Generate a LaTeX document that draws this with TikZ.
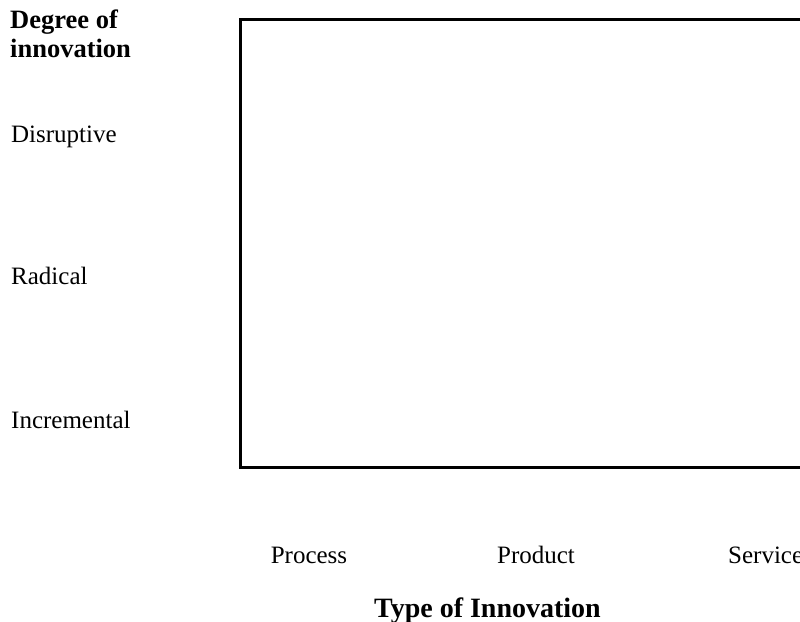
\documentclass[tikz,border=0pt]{standalone}
\usepackage{fontspec}
\setmainfont{Liberation Serif}
\begin{document}
\begin{tikzpicture}[x=1pt,y=-1pt,
  lbl/.style={inner sep=0pt,font=\fontsize{25}{28}\selectfont},
  ttl/.style={inner sep=0pt,font=\fontsize{26.5}{28}\selectfont\bfseries},
  ttlb/.style={inner sep=0pt,font=\fontsize{28}{30}\selectfont\bfseries},
  frame/.style={draw=black,line width=3pt}]
\useasboundingbox (0,0) rectangle (800,621);
\coordinate (tr) at (810,19);
\coordinate (tl) at (240,19);
\coordinate (bl) at (240,467);
\coordinate (br) at (810,467);
\draw[frame,line join=miter] (tr) -- (tl) -- (bl) -- (br);
\node[ttl,anchor=base west] (deg) at (10,28.5) {Degree of};
\node[ttl,anchor=base west] (inn) at (10,57) {innovation};
\node[lbl,anchor=base west] (dis) at (11,142.5) {Disruptive};
\node[lbl,anchor=base west] (rad) at (11,284) {Radical};
\node[lbl,anchor=base west] (inc) at (11,428) {Incremental};
\node[lbl,anchor=base] (pro) at (309,563) {Process};
\node[lbl,anchor=base] (prd) at (536,563) {Product};
\node[lbl,anchor=base west] (ser) at (728,563) {Service};
\node[ttlb,anchor=base] (typ) at (487.5,617) {Type of Innovation};
\end{tikzpicture}
\end{document}
